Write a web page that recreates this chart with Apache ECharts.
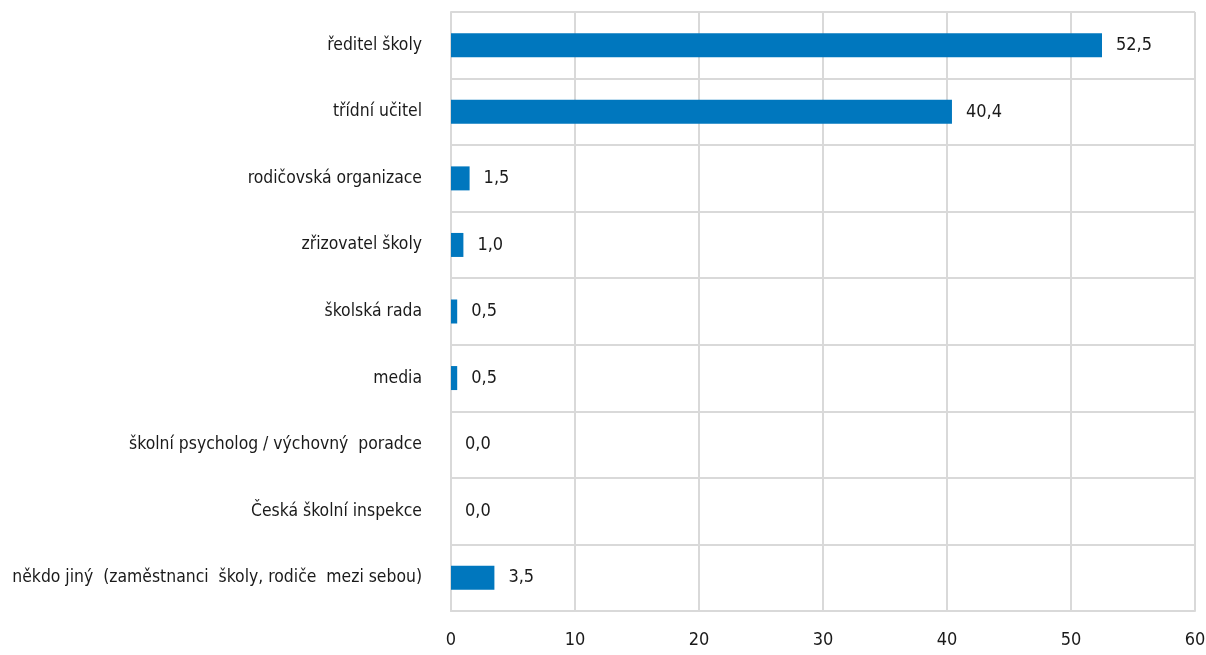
<!DOCTYPE html>
<html>
<head>
<meta charset="utf-8">
<script src="https://cdn.jsdelivr.net/npm/echarts@6/dist/echarts.min.js"></script>
<style>
  html, body { margin: 0; padding: 0; background: #fff; }
  #main { width: 1206px; height: 655px; }
</style>
</head>
<body>
<div id="main"></div>
<script>
// kdo řešil problém - procenta
const categories = [
  'ředitel školy',
  'třídní učitel',
  'rodičovská organizace',
  'zřizovatel školy',
  'školská rada',
  'media',
  'školní psycholog / výchovný  poradce',
  'Česká školní inspekce',
  'někdo jiný  (zaměstnanci  školy, rodiče  mezi sebou)'
];
const values = [52.5, 40.4, 1.5, 1.0, 0.5, 0.5, 0.0, 0.0, 3.5];
const xTicks = [0, 10, 20, 30, 40, 50, 60];

const font = '"DejaVu Sans Condensed", "DejaVu Sans", sans-serif';
const gridColor = '#d9d9d9';
const textColor = '#1a1a1a';

var myChart = echarts.init(document.getElementById('main'));
myChart.setOption({
  animation: false,
  textStyle: { fontFamily: font },
  grid: { left: 451, right: 11, top: 12, bottom: 44, outerBoundsMode: 'none' },
  xAxis: {
    type: 'value',
    min: xTicks[0],
    max: xTicks[xTicks.length - 1],
    interval: 10,
    axisLine: { show: true, lineStyle: { color: gridColor, width: 2 } },
    axisTick: { show: false },
    axisLabel: { color: textColor, fontSize: 18, margin: 20, fontFamily: font },
    splitLine: { show: true, lineStyle: { color: gridColor, width: 2 } }
  },
  yAxis: {
    type: 'category',
    data: categories,
    inverse: true,
    axisLine: { show: true, lineStyle: { color: gridColor, width: 2 } },
    axisTick: { show: false },
    axisLabel: { color: textColor, fontSize: 17.4, margin: 29, fontFamily: font },
    splitLine: { show: true, lineStyle: { color: gridColor, width: 2 } }
  },
  series: [{
    type: 'bar',
    data: values,
    barWidth: 24,
    itemStyle: { color: '#0077be' },
    label: {
      show: true,
      position: 'right',
      distance: 14,
      color: textColor,
      fontSize: 18,
      fontFamily: font,
      formatter: p => p.value.toFixed(1).replace('.', ',')
    }
  }]
});
</script>
</body>
</html>
